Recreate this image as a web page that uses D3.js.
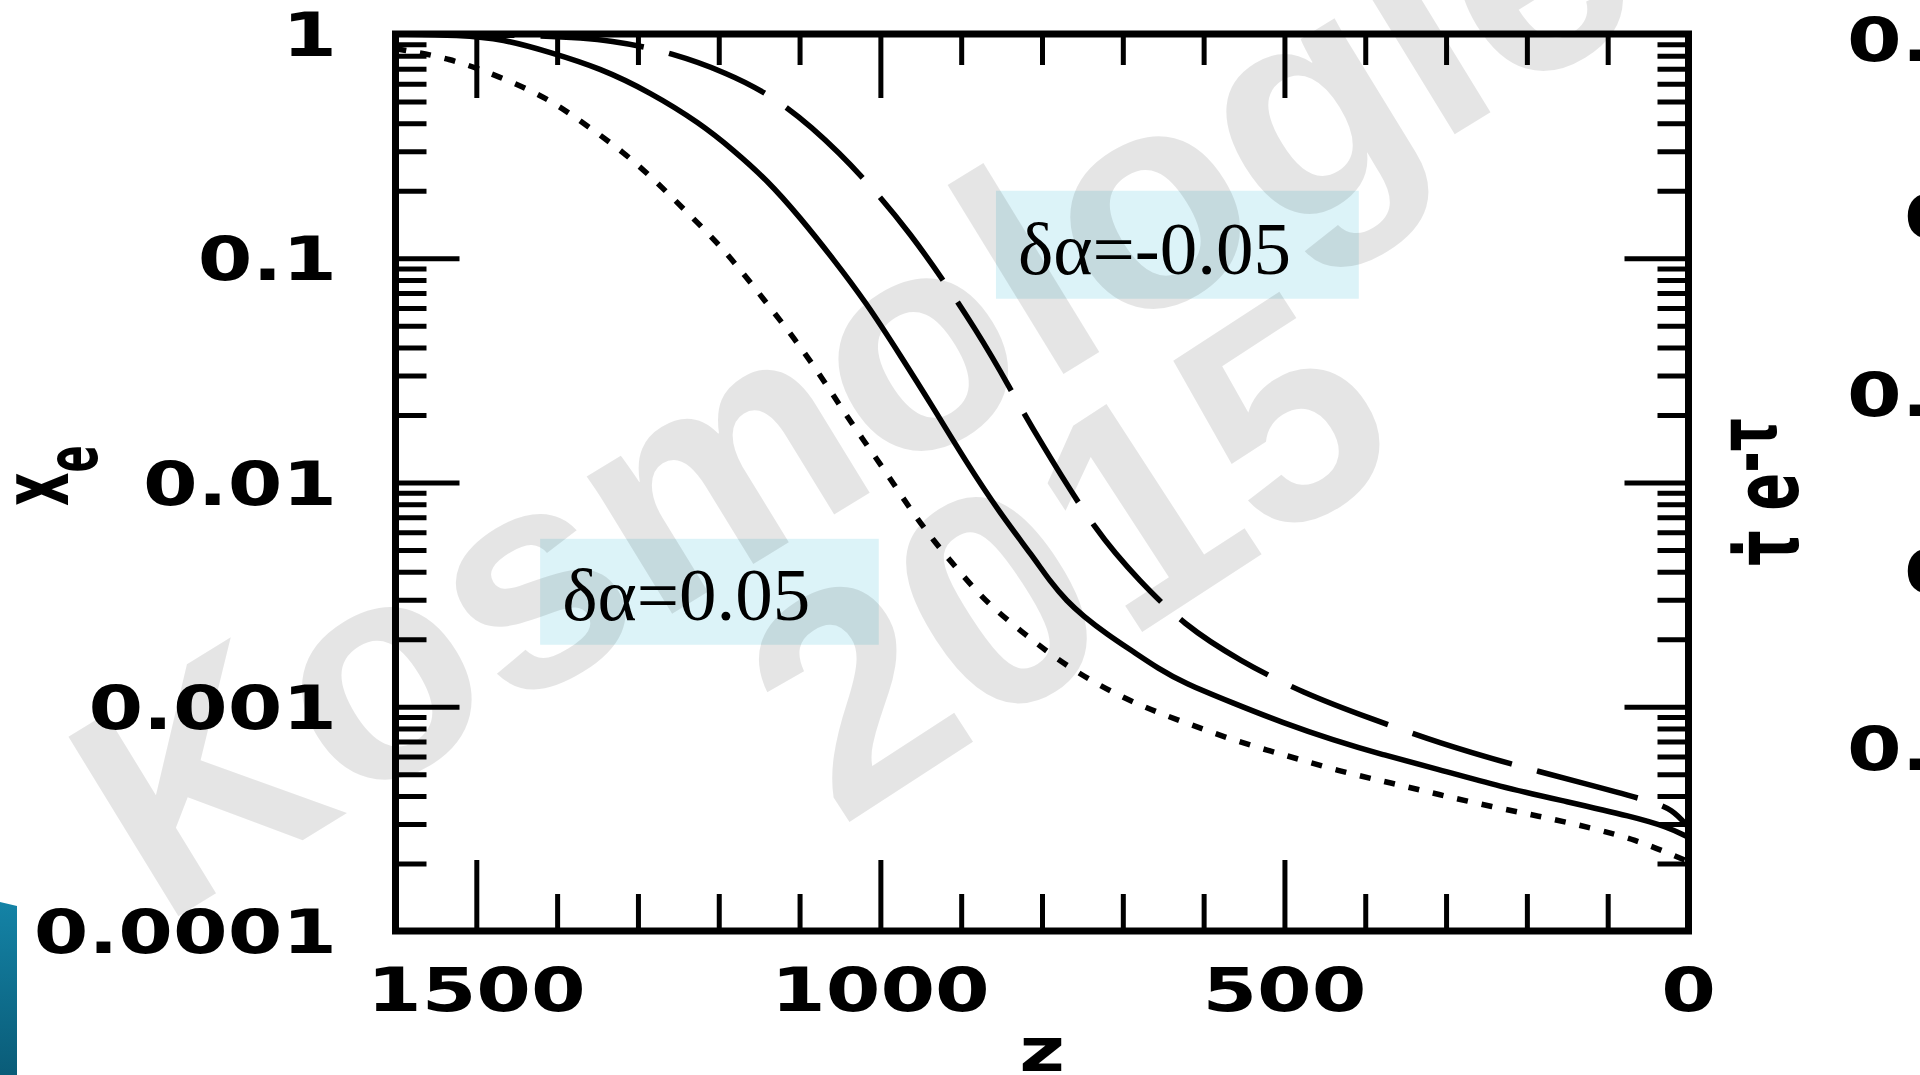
<!DOCTYPE html>
<html>
<head>
<meta charset="utf-8">
<script src="https://cdn.jsdelivr.net/npm/d3@7"></script>
<style>
  html, body { margin: 0; padding: 0; background: #fff; overflow: hidden; }
  svg { display: block; }
</style>
</head>
<body>
<div id="chart"></div>
<script>
/* data section */

// standard recombination (solid)
var z_solid = [1600, 1520, 1467, 1409, 1347, 1285, 1223, 1182, 1140, 1100, 1059, 1017, 976, 935, 893, 852, 811, 790, 769, 749, 720, 687, 656, 625, 564, 502, 440, 378, 316, 233, 150, 69, 27, 0];
var xe_solid = [1.0, 0.99, 0.95, 0.83, 0.705, 0.55, 0.40, 0.304, 0.223, 0.153, 0.100, 0.063, 0.0372, 0.0217, 0.0122, 0.0073, 0.00466, 0.00362, 0.00295, 0.00254, 0.00211, 0.00176, 0.00148, 0.00128, 0.00104, 0.000848, 0.000711, 0.000610, 0.000534, 0.000440, 0.000377, 0.000323, 0.000292, 0.000262];

// delta alpha = -0.05 (long dashes)
var z_dash = [1600, 1420, 1328, 1257, 1192, 1128, 1054, 963, 873, 840, 806, 731, 679, 625, 555, 477, 394, 306, 221, 132, 48, 20, 0];
var xe_dash = [1.0, 0.99, 0.94, 0.82, 0.677, 0.519, 0.310, 0.134, 0.0432, 0.0264, 0.0160, 0.00584, 0.00364, 0.00232, 0.0016, 0.00115, 0.000887, 0.000684, 0.000556, 0.000458, 0.00038, 0.00035, 0.00029];

// delta alpha = +0.05 (dotted)
var z_dot = [1600, 1533, 1471, 1412, 1366, 1318, 1278, 1242, 1202, 1169, 1137, 1107, 1077, 1050, 1023, 992, 966, 935, 901, 867, 825, 783, 731, 676, 619, 558, 496, 434, 369, 308, 243, 181, 119, 64, 23, 0];
var xe_dot = [0.86, 0.782, 0.645, 0.519, 0.397, 0.298, 0.221, 0.164, 0.118, 0.0851, 0.0607, 0.0441, 0.0311, 0.0220, 0.0158, 0.0110, 0.00787, 0.00555, 0.00395, 0.00288, 0.00216, 0.00164, 0.00125, 0.00100, 0.00084, 0.000698, 0.000604, 0.000518, 0.000458, 0.000405, 0.000358, 0.000323, 0.000288, 0.000254, 0.000221, 0.000204];

var y_tick_values = [1, 0.1, 0.01, 0.001, 0.0001];
var y_tick_labels = ['1', '0.1', '0.01', '0.001', '0.0001'];
var x_tick_values = [1500, 1000, 500, 0];
var x_tick_labels = ['1500', '1000', '500', '0'];
var box_labels = ['\u03b4\u03b1=-0.05', '\u03b4\u03b1=0.05'];
var right_panel_labels = ['0.4', '0.3', '0.2', '0.1', '0.0'];

/* chart section */

var width = 1920;
var height = 1075;
var plot_l = 395.5, plot_r = 1688.5, plot_t = 34, plot_b = 931;

var svg = d3.select('#chart').append('svg')
	.attr('width', width)
	.attr('height', height);

svg.append('rect').attr('width', width).attr('height', height).attr('fill', '#fff');

var x = d3.scaleLinear().domain([1600, 0]).range([plot_l, plot_r]);
var y = d3.scaleLog().domain([1e-4, 1]).range([plot_b, plot_t]);

var tickFont = "'DejaVu Sans', sans-serif";
var stretch = 1.31; // the original figure is stretched sideways

// slide decoration bottom left
var grad = svg.append('defs').append('linearGradient').attr('id', 'teal')
	.attr('x1', 0).attr('x2', 0).attr('y1', 0).attr('y2', 1);
grad.append('stop').attr('offset', 0).attr('stop-color', '#1483a6');
grad.append('stop').attr('offset', 1).attr('stop-color', '#0a5c78');
svg.append('path')
	.attr('d', 'M0,902 L17,906 L17,1075 L0,1075 Z')
	.attr('fill', 'url(#teal)');

// annotation boxes
var boxes = [
	{ z0: 857, z1: 408, v0: 0.2, v1: 0.066 },
	{ z0: 1421, z1: 1002, v0: 0.00561, v1: 0.00189 }
];
boxes.forEach(function (b, i) {
	svg.append('rect')
		.attr('x', x(b.z0))
		.attr('y', y(b.v0))
		.attr('width', x(b.z1) - x(b.z0))
		.attr('height', y(b.v1) - y(b.v0))
		.attr('fill', '#dcf3f8');
});

// watermark
var wm = svg.append('g')
	.attr('fill', 'rgba(0,0,0,0.1)')
	.attr('font-family', "'Liberation Sans', Arial, sans-serif")
	.attr('font-weight', 'bold')
	.attr('font-size', 306);
wm.append('text')
	.attr('transform', 'translate(161,927) rotate(-31.5)')
	.text('Kosmologie');
wm.append('text')
	.attr('transform', 'translate(1066,550) rotate(-33)')
	.attr('text-anchor', 'middle')
	.attr('dy', '0.36em')
	.text('2015');

// curves
svg.append('clipPath').attr('id', 'plotclip').append('rect')
	.attr('x', plot_l).attr('y', plot_t)
	.attr('width', plot_r - plot_l).attr('height', plot_b - plot_t);

var line = d3.line()
	.x(function (d) { return x(d[0]); })
	.y(function (d) { return y(d[1]); })
	.curve(d3.curveBasis);

var series = [
	{ z: z_solid, v: xe_solid, dash: null, off: 0 },
	{ z: z_dash, v: xe_dash, dash: '104,26', off: -15 },
	{ z: z_dot, v: xe_dot, dash: '11,14', off: 0 }
];
var curves = svg.append('g').attr('clip-path', 'url(#plotclip)');
series.forEach(function (s) {
	var pts = s.z.map(function (zz, i) { return [zz, s.v[i]]; });
	curves.append('path')
		.datum(pts)
		.attr('d', line)
		.attr('fill', 'none')
		.attr('stroke', '#000')
		.attr('stroke-width', 5.5)
		.attr('stroke-dasharray', s.dash)
		.attr('stroke-dashoffset', s.off);
});

// ticks
function isDecade(v) {
	var l = Math.log10(v);
	return Math.abs(l - Math.round(l)) < 1e-6;
}
var y_minor = y.ticks().filter(function (v) { return !isDecade(v); });
var y_major = y_tick_values.filter(function (v) { return v < 1 && v > 1e-4; });
var x_minor = x.ticks(16).filter(function (v) { return v % 500 != 0; });
var x_major = x_tick_values.filter(function (v) { return v > 0; });

function drawAxis(gen, tr, vals, size) {
	var g = svg.append('g')
		.attr('transform', tr)
		.call(gen.tickValues(vals).tickSize(size).tickFormat(''));
	g.select('.domain').remove();
	g.selectAll('line').attr('stroke', '#000').attr('stroke-width', 5);
}
drawAxis(d3.axisLeft(y), 'translate(' + plot_l + ',0)', y_minor, -31);
drawAxis(d3.axisLeft(y), 'translate(' + plot_l + ',0)', y_major, -64);
drawAxis(d3.axisRight(y), 'translate(' + plot_r + ',0)', y_minor, -31);
drawAxis(d3.axisRight(y), 'translate(' + plot_r + ',0)', y_major, -64);
drawAxis(d3.axisBottom(x), 'translate(0,' + plot_b + ')', x_minor, -37);
drawAxis(d3.axisBottom(x), 'translate(0,' + plot_b + ')', x_major, -71);
drawAxis(d3.axisTop(x), 'translate(0,' + plot_t + ')', x_minor, -31);
drawAxis(d3.axisTop(x), 'translate(0,' + plot_t + ')', x_major, -64);

// frame
svg.append('rect')
	.attr('x', plot_l).attr('y', plot_t)
	.attr('width', plot_r - plot_l).attr('height', plot_b - plot_t)
	.attr('fill', 'none')
	.attr('stroke', '#000')
	.attr('stroke-width', 7);

// tick labels
var labels = svg.append('g')
	.attr('font-family', tickFont)
	.attr('font-weight', 'bold')
	.attr('font-size', 60)
	.attr('fill', '#000');
y_tick_values.forEach(function (v, i) {
	labels.append('text')
		.attr('transform', 'translate(337,' + (y(v) + 22) + ') scale(' + stretch + ',1)')
		.attr('text-anchor', 'end')
		.text(y_tick_labels[i]);
});
x_tick_values.forEach(function (v, i) {
	labels.append('text')
		.attr('transform', 'translate(' + x(v) + ',1011) scale(' + stretch + ',1)')
		.attr('text-anchor', 'middle')
		.text(x_tick_labels[i]);
});

// axis titles
labels.append('text')
	.attr('transform', 'translate(' + ((plot_l + plot_r) / 2) + ',1071) scale(' + stretch + ',1)')
	.attr('text-anchor', 'middle')
	.text('z');

var ylab = labels.append('text')
	.attr('font-size', 52)
	.attr('transform', 'translate(68,490) scale(1.8,1) rotate(-90)')
	.attr('x', -16);
ylab.append('tspan').text('x');
ylab.append('tspan').attr('font-size', 40).attr('dy', 16).text('e');

// label of the neighbouring panel, cut by the slide edge
var tlab = labels.append('text')
	.attr('font-size', 56)
	.attr('transform', 'translate(1798,566) scale(1.58,1) rotate(-90)');
tlab.append('tspan').text('\u03c4\u0307 e');
tlab.append('tspan').attr('font-size', 52).attr('dy', -14).text('-\u03c4');

right_panel_labels.forEach(function (t, i) {
	labels.append('text')
		.attr('transform', 'translate(' + (i % 2 == 0 ? 1847 : 1904) + ',' + (39 + i * 177.3 + 22) + ') scale(' + stretch + ',1)')
		.text(t);
});

// box texts
var boxText = svg.append('g')
	.attr('font-family', "'Liberation Serif', 'Times New Roman', serif")
	.attr('font-size', 75)
	.attr('fill', '#000');
boxes.forEach(function (b, i) {
	boxText.append('text')
		.attr('x', x(b.z0) + 22)
		.attr('y', y(b.v1) - 25)
		.text(box_labels[i]);
});
</script>
</body>
</html>
